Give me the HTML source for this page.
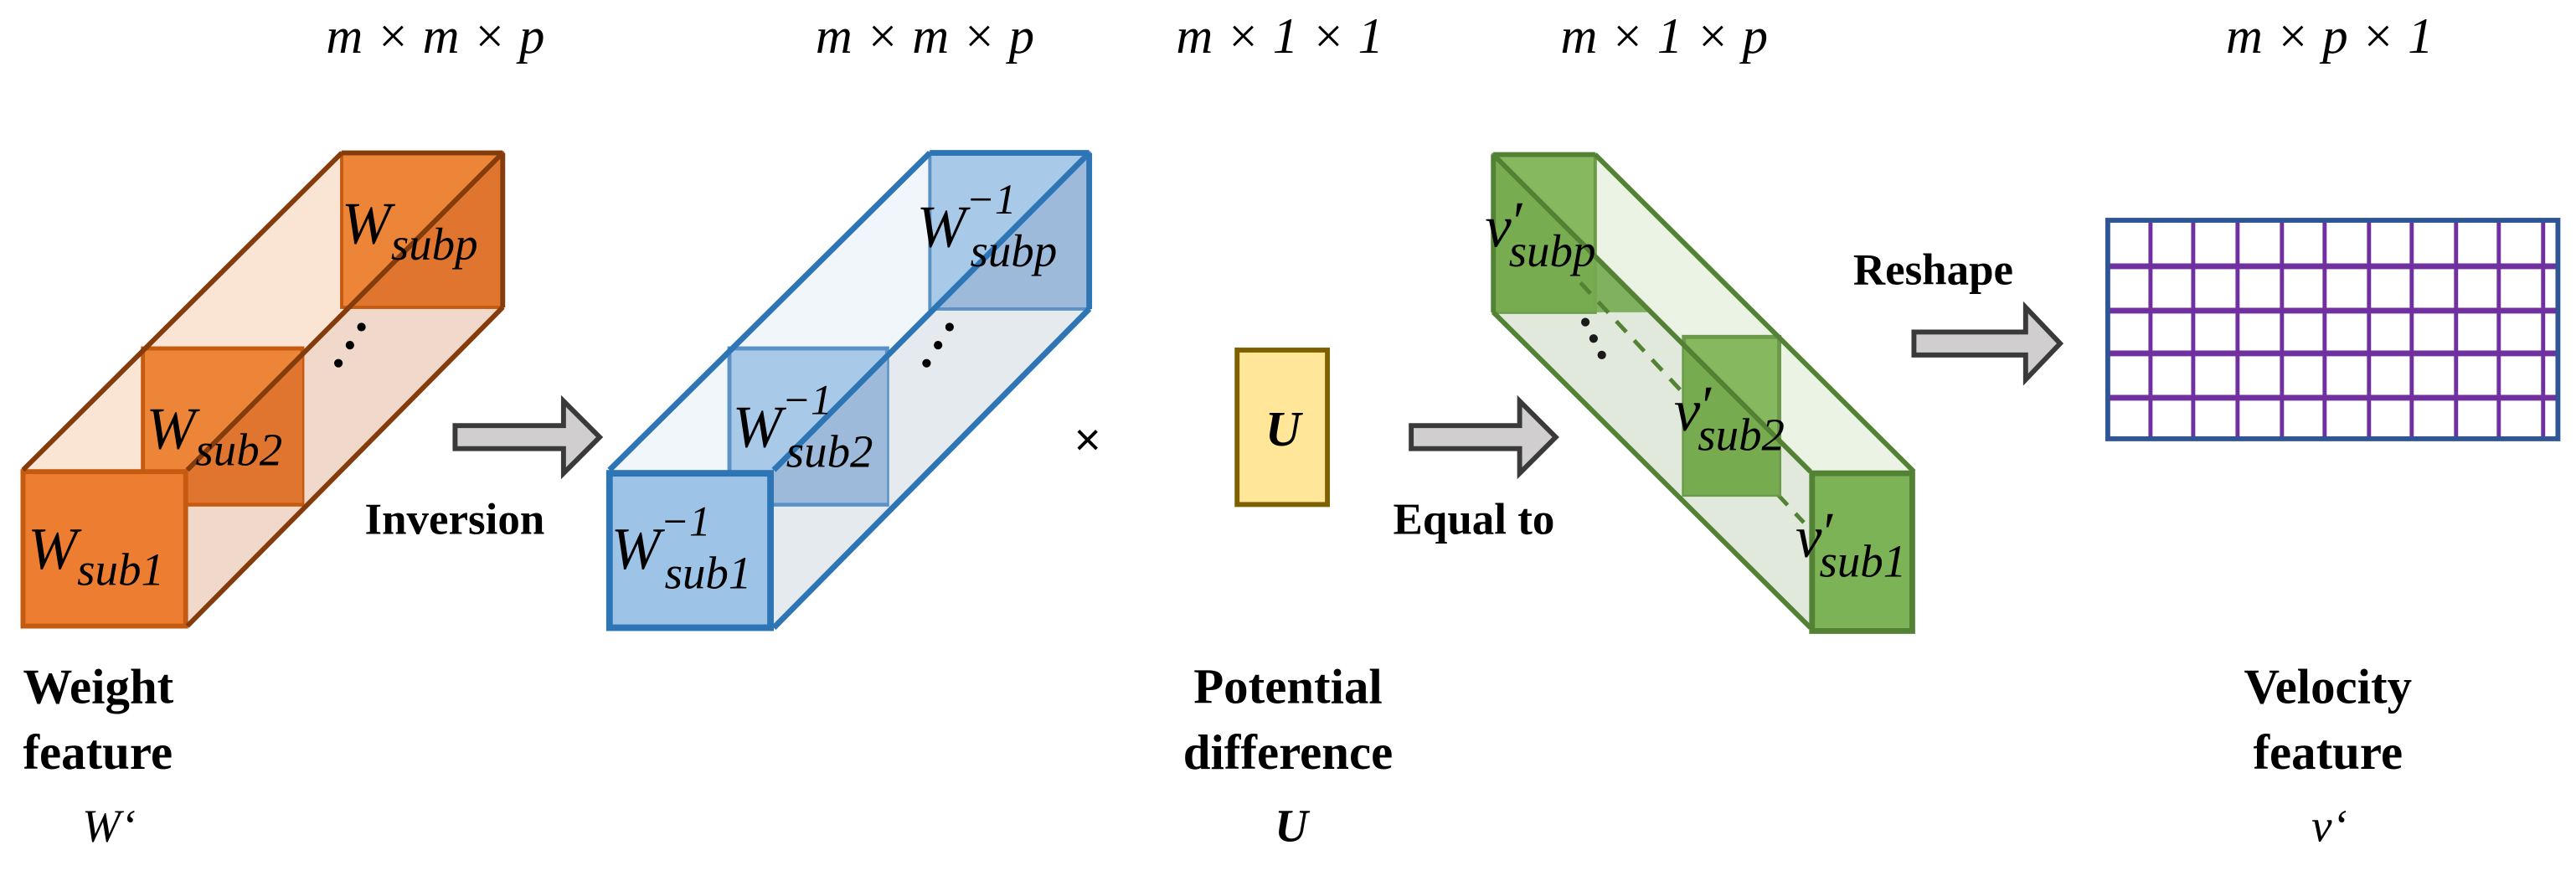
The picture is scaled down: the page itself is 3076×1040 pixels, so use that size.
<!DOCTYPE html>
<html><head><meta charset="utf-8"><style>
html,body{margin:0;padding:0;background:#fff;}
svg{display:block;}
.m{font-family:"Liberation Serif",serif;font-style:italic;fill:#000;}
.b{font-family:"Liberation Serif",serif;font-weight:bold;fill:#000;}
</style></head><body>
<svg width="3076" height="1040" viewBox="0 0 1568 530" xmlns="http://www.w3.org/2000/svg">
<rect width="1568" height="530" fill="#fff"/>
<!-- top dims -->
<g class="m" font-size="31" text-anchor="middle">
<text x="265" y="32">m × m × p</text>
<text x="563" y="32">m × m × p</text>
<text x="779" y="32">m × 1 × 1</text>
<text x="1013" y="32">m × 1 × p</text>
<text x="1418" y="32">m × p × 1</text>
</g>

<!-- ORANGE -->
<g>
<polygon points="14,286 208,93 306,93 114,286" fill="#fae5d5"/>
<polygon points="114,286 306,93 306,187 114,381" fill="#f0d9cb"/>
<rect x="208" y="93" width="98" height="94" fill="#ed8539" stroke="#c55a11" stroke-width="2"/>
<polygon points="306,94 306,186 213,186" fill="#e07530"/>
<rect x="87" y="212" width="97" height="95" fill="#ed8539" stroke="#c55a11" stroke-width="2.5"/>
<polygon points="184,214 184,306 92,306" fill="#e07530"/>
<rect x="14" y="287" width="99" height="94" fill="#ed7d31" stroke="#c55a11" stroke-width="3"/>
<g stroke="#843c0c" stroke-width="3" fill="none">
<line x1="14" y1="286" x2="208" y2="93"/>
<line x1="208" y1="93" x2="306" y2="93"/>
<line x1="306" y1="93" x2="114" y2="286"/>
<line x1="306" y1="93" x2="306" y2="187"/>
<line x1="306" y1="187" x2="114" y2="381"/>
</g>
<g class="m" font-size="36"><text x="208" y="148">W<tspan font-size="28" dy="10">subp</tspan></text>
<text x="89" y="273">W<tspan font-size="28" dy="10">sub2</tspan></text>
<text x="17" y="346">W<tspan font-size="28" dy="10">sub1</tspan></text></g>
<g fill="#000"><circle cx="206" cy="221" r="2.6"/><circle cx="213" cy="210" r="2.6"/><circle cx="220" cy="199" r="2.6"/></g>
</g>

<!-- arrow 1 -->
<polygon points="277,259 343,259 343,244 365,266 343,288 343,273 277,273" fill="#d0cece" stroke="#3a3a3a" stroke-width="3"/>
<text class="b" x="222" y="325" font-size="27">Inversion</text>

<!-- BLUE -->
<g>
<polygon points="371,286 566,93 663,93 471,286" fill="#f1f6fa"/>
<polygon points="471,286 663,93 663,188 471,382" fill="#e5eaef"/>
<rect x="566" y="93" width="97" height="95" fill="#a8c9e8" stroke="#5b91c6" stroke-width="2"/>
<polygon points="663,94 663,187 570,187" fill="#9dbadb"/>
<rect x="444" y="212" width="96" height="95" fill="#a8c9e8" stroke="#5b91c6" stroke-width="2.5"/>
<polygon points="540,214 540,306 450,306" fill="#9dbadb"/>
<rect x="371" y="288" width="98" height="94" fill="#9dc3e6" stroke="#2e75b6" stroke-width="4"/>
<g stroke="#2e75b6" stroke-width="3.5" fill="none">
<line x1="371" y1="286" x2="566" y2="93"/>
<line x1="566" y1="93" x2="663" y2="93"/>
<line x1="663" y1="93" x2="471" y2="286"/>
<line x1="663" y1="93" x2="663" y2="188"/>
<line x1="663" y1="188" x2="471" y2="382"/>
</g>
<g class="m" font-size="36"><text x="558" y="150">W<tspan font-size="26" dy="-20">−1</tspan><tspan font-size="28" dy="32" dx="-28">subp</tspan></text>
<text x="446" y="272">W<tspan font-size="26" dy="-20">−1</tspan><tspan font-size="28" dy="32" dx="-28">sub2</tspan></text>
<text x="372" y="346">W<tspan font-size="26" dy="-20">−1</tspan><tspan font-size="28" dy="32" dx="-28">sub1</tspan></text></g>
<g fill="#000"><circle cx="564" cy="221" r="2.6"/><circle cx="571" cy="210" r="2.6"/><circle cx="578" cy="199" r="2.6"/></g>
</g>

<text x="662" y="277" font-family="Liberation Sans,sans-serif" font-size="28" text-anchor="middle">×</text>

<!-- U box -->
<rect x="753" y="213" width="55" height="94" fill="#ffe699" stroke="#7f6000" stroke-width="3"/>
<text x="781" y="271" class="m" font-weight="bold" font-size="30" text-anchor="middle">U</text>

<!-- arrow 2 -->
<polygon points="859,259 925,259 925,244 947,266 925,288 925,273 859,273" fill="#d0cece" stroke="#3a3a3a" stroke-width="3"/>
<text class="b" x="848" y="325" font-size="27">Equal to</text>

<!-- GREEN -->
<g>
<polygon points="909,94 971,94 1165,287 1102,287" fill="#ebf3e4"/>
<polygon points="909,94 1102,287 1102,382 909,190" fill="#e0e9dc"/>
<rect x="909" y="94" width="62" height="96" fill="#86b85f" stroke="#6a9a4a" stroke-width="2"/>
<polygon points="909,94 909,190 1003,190" fill="#76ab50" opacity="0.9"/>
<line x1="962" y1="172" x2="1098" y2="318" stroke="#548235" stroke-width="2.5" stroke-dasharray="9,7"/>
<rect x="1025" y="205" width="58" height="96" fill="#86b85f" stroke="#6a9a4a" stroke-width="2.5"/>
<polygon points="1025,211 1025,301 1083,301 1083,269" fill="#76ab50"/>
<rect x="1103" y="288" width="61" height="96" fill="#7db357" stroke="#548235" stroke-width="3.5"/>
<g stroke="#548235" stroke-width="3" fill="none">
<line x1="909" y1="94" x2="971" y2="94"/>
<line x1="971" y1="94" x2="1165" y2="287"/>
<line x1="909" y1="94" x2="1102" y2="287"/>
<line x1="909" y1="94" x2="909" y2="190"/>
<line x1="909" y1="190" x2="1102" y2="382"/>
</g>
<g class="m" font-size="36"><text x="904" y="150">v<tspan font-size="34" dy="-4" dx="-1">′</tspan><tspan font-size="28" dy="16" dx="-8">subp</tspan></text>
<text x="1019" y="262">v<tspan font-size="34" dy="-4" dx="-1">′</tspan><tspan font-size="28" dy="16" dx="-8">sub2</tspan></text>
<text x="1093" y="339">v<tspan font-size="34" dy="-4" dx="-1">′</tspan><tspan font-size="28" dy="16" dx="-8">sub1</tspan></text></g>
<g fill="#1a1a1a"><circle cx="965" cy="196" r="2.6"/><circle cx="970" cy="206" r="2.6"/><circle cx="975" cy="216" r="2.6"/></g>
</g>

<!-- arrow 3 -->
<polygon points="1165,202 1233,202 1233,187 1254,209 1233,231 1233,216 1165,216" fill="#d0cece" stroke="#3a3a3a" stroke-width="3"/>
<text class="b" x="1128" y="173" font-size="27">Reshape</text>

<!-- grid -->
<g stroke="#7030a0" stroke-width="2.5">
<line x1="1309" y1="135" x2="1309" y2="266"/>
<line x1="1335" y1="135" x2="1335" y2="266"/>
<line x1="1362" y1="135" x2="1362" y2="266"/>
<line x1="1389" y1="135" x2="1389" y2="266"/>
<line x1="1415" y1="135" x2="1415" y2="266"/>
<line x1="1442" y1="135" x2="1442" y2="266"/>
<line x1="1468" y1="135" x2="1468" y2="266"/>
<line x1="1495" y1="135" x2="1495" y2="266"/>
<line x1="1521" y1="135" x2="1521" y2="266"/>
<line x1="1548" y1="135" x2="1548" y2="266"/>
<g stroke-width="3.5">
<line x1="1283" y1="162" x2="1557" y2="162"/>
<line x1="1283" y1="189" x2="1557" y2="189"/>
<line x1="1283" y1="215" x2="1557" y2="215"/>
<line x1="1283" y1="242" x2="1557" y2="242"/>
</g>
</g>
<rect x="1283" y="134" width="274" height="133" fill="none" stroke="#2f5597" stroke-width="3"/>

<!-- bottom labels -->
<g class="b" font-size="30">
<text x="14" y="428">Weight</text>
<text x="14" y="468">feature</text>
<text x="784" y="428" text-anchor="middle">Potential</text>
<text x="784" y="468" text-anchor="middle">difference</text>
<text x="1417" y="428" text-anchor="middle">Velocity</text>
<text x="1417" y="468" text-anchor="middle">feature</text>
</g>
<g class="m" font-size="28">
<text x="50" y="512">W‘</text>
<text x="776" y="512" font-weight="bold">U</text>
<text x="1407" y="512">v‘</text>
</g>
</svg>
</body></html>
